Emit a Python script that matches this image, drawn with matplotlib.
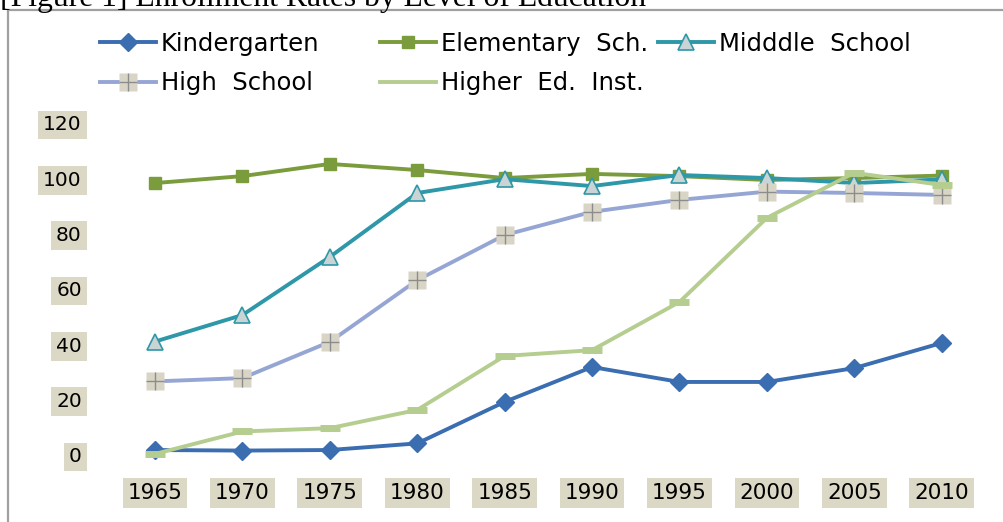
import matplotlib
matplotlib.use("Agg")
import matplotlib.pyplot as plt
from matplotlib.lines import Line2D
from matplotlib.legend_handler import HandlerTuple

years = [1965, 1970, 1975, 1980, 1985, 1990, 1995, 2000, 2005, 2010]

kindergarten = [1.8, 1.6, 1.8, 4.2, 19.2, 31.8, 26.4, 26.4, 31.4, 40.5]
elementary = [98.3, 100.8, 105.2, 103.0, 100.1, 101.6, 100.8, 99.4, 100.1, 101.0]
middle = [41.0, 50.6, 71.6, 94.7, 99.7, 97.2, 101.2, 100.1, 98.3, 99.6]
high = [26.6, 27.8, 40.9, 63.2, 79.5, 87.9, 92.2, 95.2, 94.7, 94.0]
higher_ed = [0.4, 8.5, 9.7, 16.3, 35.8, 37.9, 55.3, 85.7, 102.0, 97.6]

y_ticks = [0, 20, 40, 60, 80, 100, 120]

fig = plt.figure(figsize=(10.04, 5.22), dpi=100)
fig.patch.set_facecolor("white")

# frame round the chart area
fig.add_artist(Line2D([8 / 1004, 1.0], [1 - 10 / 522, 1 - 10 / 522],
                      transform=fig.transFigure, color="#a0a0a0", lw=1.6))
fig.add_artist(Line2D([8 / 1004, 8 / 1004], [0, 1 - 10 / 522],
                      transform=fig.transFigure, color="#a0a0a0", lw=1.6))

fig.text(0.0, 1 - 6 / 522, "[Figure 1] Enrollment Rates by Level of Education",
         family="Liberation Serif", fontsize=22.8, va="baseline", ha="left")

ax = fig.add_axes([102.6 / 1004, 67 / 522, 891.5 / 1004, 332 / 522])
ax.set_xlim(1962, 2013)
ax.set_ylim(0, 120)
for s in ax.spines.values():
    s.set_visible(False)

lw = 2.8
ax.plot(years, kindergarten, color="#3b6db1", lw=lw, marker="D", ms=9,
        clip_on=False, zorder=3)
ax.plot(years, elementary, color="#7a9c3c", lw=lw, marker="s", ms=9,
        clip_on=False, zorder=3)
ax.plot(years, middle, color="#2e97a8", lw=lw, marker="^", ms=12,
        mfc="#cad4d4", mec="#2e97a8", mew=1.2, clip_on=False, zorder=3)
ax.plot(years, high, color="#96a6d4", lw=lw, clip_on=False, zorder=3)
ax.plot(years, high, ls="none", marker="s", ms=13, mfc="#d9d5c6",
        mec="none", clip_on=False, zorder=3)
ax.plot(years, high, ls="none", marker="+", ms=13, color="#8c8c8c", mew=1,
        clip_on=False, zorder=3)
ax.plot(years, higher_ed, color="#b5cd8f", lw=lw, marker="_", ms=14, mew=5,
        clip_on=False, zorder=3)

ax.set_xticks(years)
ax.set_xticklabels([str(y) for y in years])
ax.set_yticks(y_ticks)
ax.set_yticklabels([str(v) for v in y_ticks])
ax.tick_params(axis="x", length=0, pad=20, labelsize=15.5)
ax.tick_params(axis="y", length=0, pad=15, labelsize=14.5)
for lab in ax.get_xticklabels() + ax.get_yticklabels():
    lab.set_bbox(dict(facecolor="#dcd8c6", edgecolor="none", pad=3.5))

# legend laid out as three fixed columns
h_kin = Line2D([], [], color="#3b6db1", lw=lw, marker="D", ms=9)
h_ele = Line2D([], [], color="#7a9c3c", lw=lw, marker="s", ms=9)
h_mid = Line2D([], [], color="#2e97a8", lw=lw, marker="^", ms=12,
               mfc="#cad4d4", mec="#2e97a8", mew=1.2)
h_hi_line = Line2D([], [], color="#96a6d4", lw=lw)
h_hi_sq = Line2D([], [], ls="none", marker="s", ms=13, mfc="#d9d5c6", mec="none")
h_hi_plus = Line2D([], [], ls="none", marker="+", ms=13, color="#8c8c8c", mew=1)
h_he = Line2D([], [], color="#b5cd8f", lw=lw)

columns = [
    (100, [h_kin, (h_hi_line, h_hi_sq, h_hi_plus)], ["Kindergarten", "High  School"]),
    (380, [h_ele, h_he], ["Elementary  Sch.", "Higher  Ed.  Inst."]),
    (658, [h_mid], ["Midddle  School"]),
]
for x0, handles, labels in columns:
    fig.legend(handles, labels, loc="upper left",
               bbox_to_anchor=(x0 / 1004, 1 - 32 / 522),
               frameon=False, fontsize=17.5, borderpad=0, borderaxespad=0,
               handlelength=2.3, handletextpad=0.2, labelspacing=0.62,
               handler_map={tuple: HandlerTuple(ndivide=1, pad=0)})

fig.savefig("out.png", dpi=100)
